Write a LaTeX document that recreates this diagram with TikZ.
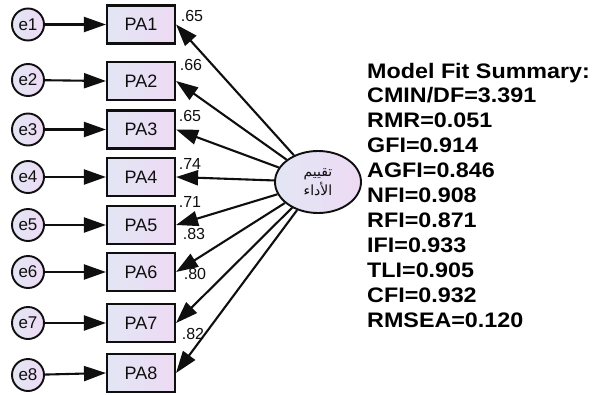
\documentclass[tikz,border=0pt]{standalone}
\usepackage{fontspec}
\setmainfont{Liberation Sans}
\newfontfamily\arabicfont[Script=Arabic]{DejaVu Sans}
\TeXXeTstate=1
\usetikzlibrary{arrows.meta,shapes.geometric}
\definecolor{fillA}{RGB}{226,230,244}
\definecolor{fillB}{RGB}{238,218,244}
\definecolor{inkc}{RGB}{15,15,15}
\tikzset{
  obs/.style={draw=inkc, line width=2.1pt, rectangle, minimum width=68pt, minimum height=38pt,
    left color=fillA, right color=fillB, inner sep=0pt,
    font=\fontsize{18}{20}\selectfont, text=inkc},
  err/.style={draw=inkc, line width=1.9pt, circle, minimum size=32pt,
    left color=fillA, right color=fillB, inner sep=0pt,
    font=\fontsize{17}{20}\selectfont, text=inkc},
  latent/.style={draw=inkc, line width=1.9pt, ellipse, minimum width=86pt, minimum height=62pt,
    left color=fillA, right color=fillB, inner sep=0pt, align=center,
    font=\fontsize{14}{19}\selectfont, text=inkc},
  path arrow/.style={draw=inkc, line width=2.1pt, -{Triangle[length=22pt,width=15pt]}},
  coef/.style={font=\fontsize{16}{18}\selectfont, text=inkc, inner sep=0pt},
  fitline/.style={anchor=base west, inner sep=0pt, font=\fontsize{21}{24}\selectfont\bfseries, text=black}
}
\begin{document}
\begin{tikzpicture}[x=1pt,y=-1pt]
\useasboundingbox[fill=white] (0,0) rectangle (594,394);

% latent factor
\node[latent] (lat) at (318,182) {\arabicfont\beginR تقييم\endR\\\arabicfont\beginR الأداء\endR};

% observed indicators
\node[obs] (pa1) at (141,24.5) {PA1};
\node[obs] (pa2) at (141,81)   {PA2};
\node[obs] (pa3) at (141,129.5){PA3};
\node[obs] (pa4) at (141,177)  {PA4};
\node[obs] (pa5) at (141,225)  {PA5};
\node[obs] (pa6) at (141,272)  {PA6};
\node[obs] (pa7) at (141,323)  {PA7};
\node[obs] (pa8) at (141,373)  {PA8};

% error terms
\node[err] (e1) at (28,24.5) {e1};
\node[err] (e2) at (28,80)   {e2};
\node[err] (e3) at (28,129.5){e3};
\node[err] (e4) at (28,177)  {e4};
\node[err] (e5) at (28,225)  {e5};
\node[err] (e6) at (28,272)  {e6};
\node[err] (e7) at (28,323)  {e7};
\node[err] (e8) at (28,375)  {e8};

% error paths
\foreach \i in {1,...,8} {
  \draw[path arrow] (e\i) -- (pa\i.west);
}

% factor loadings
\foreach \i in {1,...,8} {
  \draw[path arrow] (lat) -- (pa\i.east);
}

% standardized loadings
\node[coef] (c1) at (192,16)  {.65};
\node[coef] (c2) at (191,65)  {.66};
\node[coef] (c3) at (190,116) {.65};
\node[coef] (c4) at (190,164) {.74};
\node[coef] (c5) at (190,202) {.71};
\node[coef] (c6) at (194,234) {.83};
\node[coef] (c7) at (195,274) {.80};
\node[coef] (c8) at (193,334) {.82};

% fit indices
\node[fitline] (f0) at (367,78)    {\scalebox{1.11}[1]{Model Fit Summary:}};
\node[fitline] (f1) at (367,102.9) {\scalebox{1.11}[1]{CMIN/DF=3.391}};
\node[fitline] (f2) at (367,127.8) {\scalebox{1.11}[1]{RMR=0.051}};
\node[fitline] (f3) at (367,152.7) {\scalebox{1.11}[1]{GFI=0.914}};
\node[fitline] (f4) at (367,177.6) {\scalebox{1.11}[1]{AGFI=0.846}};
\node[fitline] (f5) at (367,202.5) {\scalebox{1.11}[1]{NFI=0.908}};
\node[fitline] (f6) at (367,227.4) {\scalebox{1.11}[1]{RFI=0.871}};
\node[fitline] (f7) at (367,252.3) {\scalebox{1.11}[1]{IFI=0.933}};
\node[fitline] (f8) at (367,277.2) {\scalebox{1.11}[1]{TLI=0.905}};
\node[fitline] (f9) at (367,302.1) {\scalebox{1.11}[1]{CFI=0.932}};
\node[fitline] (f10) at (367,327)  {\scalebox{1.11}[1]{RMSEA=0.120}};
\end{tikzpicture}
\end{document}
